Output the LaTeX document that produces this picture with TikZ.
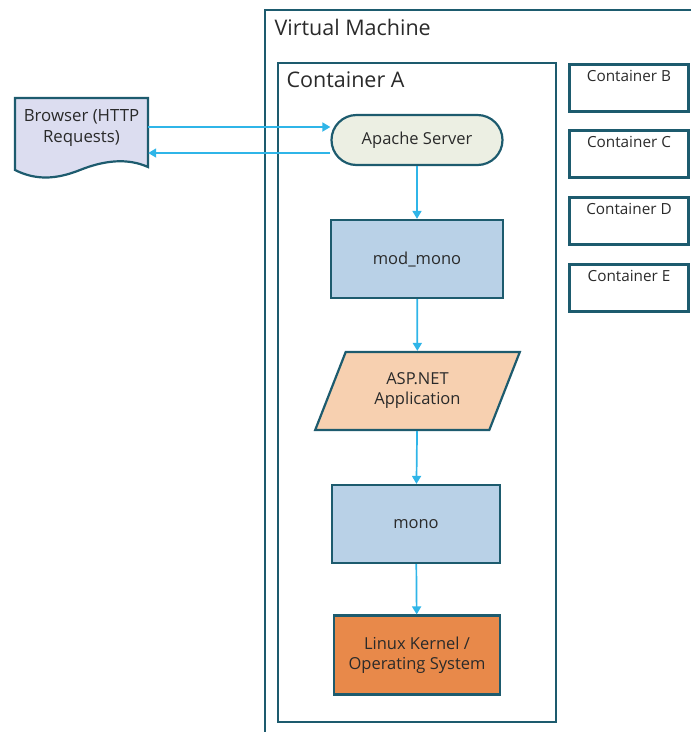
\documentclass[tikz,border=0pt]{standalone}
\usepackage{fontspec}
\setmainfont{Open Sans}
\usetikzlibrary{arrows.meta,shapes.geometric,shapes.misc}
\definecolor{frame}{HTML}{1D5B6E}
\definecolor{flowblue}{HTML}{2FB5E8}
\definecolor{apachefill}{HTML}{ECEFE3}
\definecolor{modfill}{HTML}{B9D1E7}
\definecolor{aspfill}{HTML}{F7D0B0}
\definecolor{kernfill}{HTML}{E8894A}
\definecolor{docfill}{HTML}{DCDDF0}
\definecolor{ink}{HTML}{2A2A2A}
\tikzstyle{frameline}=[draw=frame,line width=2.8pt]
\tikzstyle{stepbox}=[draw=frame,line width=2.2pt,minimum width=172pt,minimum height=78pt,align=center,inner sep=0pt,text=ink,font=\fontsize{16.5}{20}\selectfont]
\tikzstyle{smallbox}=[draw=frame,line width=2.6pt,minimum width=119pt,minimum height=47pt,anchor=north,inner sep=0pt]
\tikzstyle{flow}=[draw=flowblue,line width=1.7pt,-{Triangle[length=8pt,width=9pt]}]

\begin{document}
\begin{tikzpicture}[x=1pt,y=-1pt]
    \useasboundingbox (0,0) rectangle (691,732);
    \clip (0,0) rectangle (691,732);
    % Outer machine and the big container
    \draw[frameline] (265,10) rectangle (730,760);
    \node[anchor=west,text=ink,font=\fontsize{21.5}{25}\selectfont] (vmlabel) at (271,27) {Virtual Machine};
    \draw[frameline] (278,63) rectangle (556,722);
    \node[anchor=west,text=ink,font=\fontsize{21.5}{25}\selectfont] (alabel) at (283,80) {Container A};

    % The other containers
    \foreach \y/\name in {63/B, 129/C, 196/D, 263/E}
        \node[smallbox,label={[anchor=north,yshift=-4pt,text=ink,font=\fontsize{15.3}{18}\selectfont]north:Container \name}] (cont\name) at (629,\y) {};

    % Browser document
    \draw[draw=frame,line width=2.2pt,fill=docfill] (15,98) -- (148,98) -- (148,167)
        .. controls (128,158) and (105,160) .. (80,170)
        .. controls (55,180) and (35,180) .. (15,170) -- cycle;
    \node[minimum width=133pt,minimum height=40pt,inner sep=0pt,align=center,text=ink,font=\fontsize{16.8}{21}\selectfont] (browser) at (81.5,128) {Browser (HTTP\\Requests)};

    % Steps inside container A
    \node[stepbox,rounded rectangle,fill=apachefill,minimum width=171pt,minimum height=50pt] (apache) at (417,140) {Apache Server};
    \node[stepbox,fill=modfill] (modmono) at (417,259) {mod\_mono};
    \node[stepbox,trapezium,trapezium left angle=63,trapezium right angle=117,trapezium stretches=true,fill=aspfill,minimum width=205pt] (asp) at (417.5,391) {ASP.NET\\Application};
    \node[stepbox,fill=modfill,minimum width=168pt] (mono) at (416,524) {mono};
    \node[stepbox,fill=kernfill,minimum width=166pt,minimum height=79pt] (kernel) at (417,655) {Linux Kernel /\\Operating System};

    % Requests in and out
    \coordinate (reqin) at ([yshift=13pt]apache.west);
    \coordinate (reqout) at ([yshift=-13pt]apache.west);
    \path[flow] (browser.east |- reqin) -- (reqin);
    \path[flow] (reqout) -- (browser.east |- reqout);

    % Connect the steps
    \foreach \source/\dest in {apache/modmono, modmono/asp, asp/mono, mono/kernel}
        \path[flow] (\source) -- (\dest);
\end{tikzpicture}
\end{document}
